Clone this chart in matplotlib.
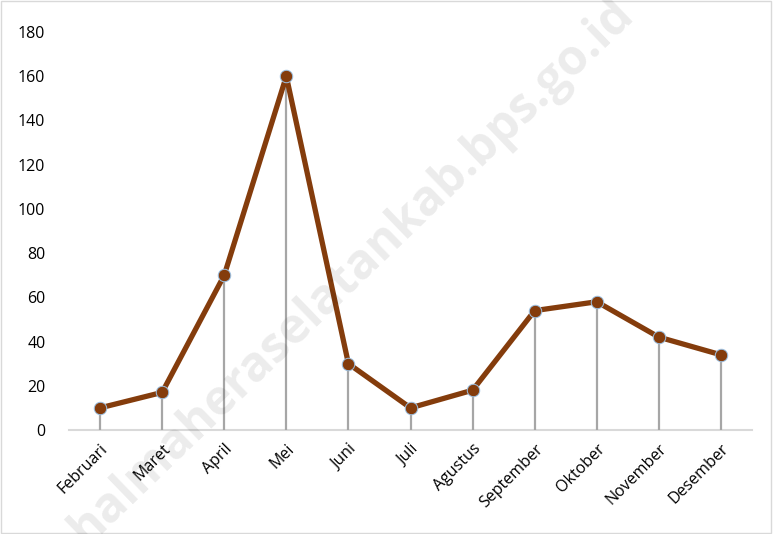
import matplotlib
matplotlib.use("Agg")
import matplotlib.pyplot as plt
from matplotlib.patches import Rectangle

months = ["Februari", "Maret", "April", "Mei", "Juni", "Juli", "Agustus",
          "September", "Oktober", "November", "Desember"]
values = [10, 17, 70, 160, 30, 10, 18, 54, 58, 42, 34]
yticks = [0, 20, 40, 60, 80, 100, 120, 140, 160, 180]

plt.rcParams['font.family'] = ['Open Sans', 'DejaVu Sans']

fig = plt.figure(figsize=(7.73, 5.34), dpi=100)
ax = fig.add_axes([69/773, 1-430/534, (752-69)/773, (430-32)/534])

x = list(range(len(months)))
ax.vlines(x, 0, values, colors='#A6A6A6', linewidth=1.6, zorder=2)
ax.plot(x, values, color='#843C0C', linewidth=3.8, marker='o', markersize=9,
        markerfacecolor='#843C0C', markeredgecolor='#9DC3E6', markeredgewidth=0.7,
        zorder=3, solid_joinstyle='round')

ax.set_xlim(-0.5, len(months) - 0.5)
ax.set_ylim(0, 180)
ax.set_yticks(yticks)
ax.set_yticklabels([str(v) for v in yticks], fontsize=11.5, color='#000000')
ax.set_xticks(x)
ax.set_xticklabels(months, rotation=45, ha='right', rotation_mode='anchor',
                   fontsize=11.5, color='#000000')
ax.tick_params(axis='both', length=0)
ax.tick_params(axis='y', pad=17)
ax.tick_params(axis='x', pad=8)
for s in ['top', 'right', 'left']:
    ax.spines[s].set_visible(False)
ax.spines['bottom'].set_color('#D9D9D9')
ax.spines['bottom'].set_linewidth(1.5)
ax.spines['bottom'].set_zorder(1)

fig.text(0.455, 0.49, "halmaheraselatankab.bps.go.id", rotation=44,
         ha='center', va='center', fontsize=35, fontweight='bold',
         color='#000000', alpha=0.08, zorder=10)

fig.patches.append(Rectangle((0.001, 0.002), 0.997, 0.996, transform=fig.transFigure,
                             fill=False, edgecolor='#D9D9D9', linewidth=1.0))

fig.savefig("out.png", dpi=100)
